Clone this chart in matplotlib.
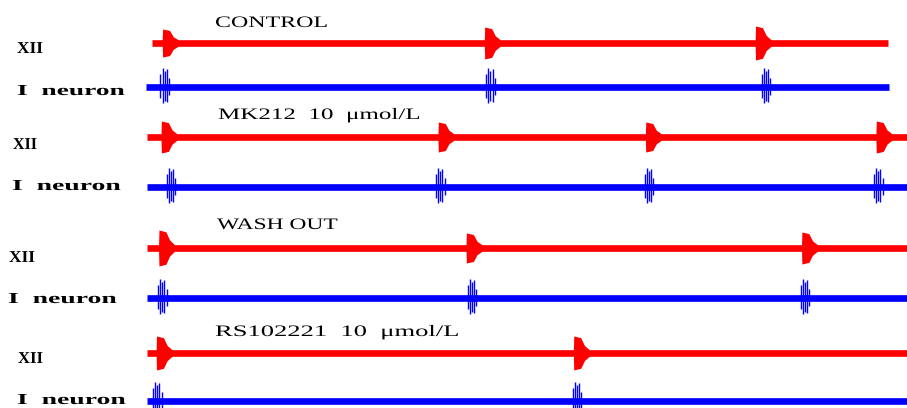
import matplotlib.pyplot as plt
from matplotlib import patheffects
from matplotlib.transforms import Affine2D

# burst onsets (s)
control_xii = [1.6, 28.0, 50.2]
control_neuron = [1.4, 28.1, 50.7]
mk212_xii = [1.5, 24.2, 41.2, 60.1]
mk212_neuron = [1.9, 24.0, 41.1, 59.9]
wash_xii = [1.3, 26.5, 54.0]
wash_neuron = [1.2, 26.6, 53.9]
rs_xii = [1.1, 35.3]
rs_neuron = [0.8, 35.2]

# burst amplitudes (arbitrary units)
control_xii_amp = [14, 16, 17]
mk212_xii_amp = [16, 15, 15, 16]
wash_xii_amp = [18, 15, 16]
rs_xii_amp = [17, 17]
neuron_amp = 19

# recording windows (s)
control_span = [(0.4, 60.7), (-0.1, 60.8)]
other_span = [(0.0, 62.3), (0.0, 62.3)]

titles = ['CONTROL', 'MK212  10  \u03bcmol/L', 'WASH OUT', 'RS102221  10  \u03bcmol/L']

blocks = [
    (control_xii, control_xii_amp, control_neuron, control_span),
    (mk212_xii, mk212_xii_amp, mk212_neuron, other_span),
    (wash_xii, wash_xii_amp, wash_neuron, other_span),
    (rs_xii, rs_xii_amp, rs_neuron, other_span),
]

# layout (pixels from top / left)
red_y = [43, 137, 248, 353]
blue_y = [87, 187, 298, 401]
title_pos = [(215, 27, 113), (218, 119, 203), (217, 229, 121), (215, 336, 245)]
xii_pos = [(17, 53, 26), (13, 149, 24), (9, 262, 26), (18, 363, 25)]
neu_pos = [(17, 95, 108), (12, 190, 109), (8, 303, 109), (17, 404, 109)]

RED = '#ff0000'
BLUE = '#0000ff'
W, H = 907, 408
px_per_s = 12.2
t0_px = 147


class StretchX(patheffects.AbstractPathEffect):
    """draw the text wider around its left edge"""
    def __init__(self, x0, sx):
        super().__init__()
        self.x0 = x0
        self.sx = sx

    def draw_path(self, renderer, gc, tpath, affine, rgbFace=None):
        st = Affine2D().translate(-self.x0, 0).scale(self.sx, 1).translate(self.x0, 0)
        renderer.draw_path(gc, tpath, affine + st, rgbFace)


fig = plt.figure(figsize=(W / 100, H / 100), dpi=100)
ax = fig.add_axes([0, 0, 1, 1])
ax.set_xlim(-t0_px / px_per_s, (W - t0_px) / px_per_s)
ax.set_ylim(H, 0)
ax.axis('off')

serif = ['Liberation Serif', 'DejaVu Serif']
labels = []

for i, (xii, xii_amp, neu, span) in enumerate(blocks):
    # XII trace
    y = red_y[i]
    ax.plot(span[0], [y, y], color=RED, lw=4.8, solid_capstyle='butt')
    for t, a in zip(xii, xii_amp):
        xs = [t - 0.35, t - 0.32, t + 0.25, t + 0.55, t + 0.95]
        half = [3.3, a, a * 0.9, a * 0.45, 3.3]
        ax.fill_between(xs, [y - h for h in half], [y + h for h in half],
                        color=RED, lw=0)
    # neuron trace
    y = blue_y[i]
    ax.plot(span[1], [y, y], color=BLUE, lw=4.8, solid_capstyle='butt')
    for t in neu:
        offs = [-0.3, -0.12, 0.05, 0.22, 0.4]
        sc = [0.7, 1.0, 0.85, 0.95, 0.5]
        for o, s in zip(offs, sc):
            ax.vlines(t + o, y - neuron_amp * s, y + neuron_amp * 0.85 * s,
                      color=BLUE, lw=1.0)

    x, yb, w = title_pos[i]
    labels.append((fig.text(x / W, 1 - yb / H, titles[i], family=serif,
                            fontsize=11.5, va='baseline', ha='left'), x, w))
    x, yb, w = xii_pos[i]
    labels.append((fig.text(x / W, 1 - yb / H, 'XII', family=serif,
                            fontsize=12, fontweight='bold', va='baseline', ha='left'), x, w))
    x, yb, w = neu_pos[i]
    labels.append((fig.text(x / W, 1 - yb / H, 'I  neuron', family=serif,
                            fontsize=11, fontweight='bold', va='baseline', ha='left'), x, w))

# widen the text to the lettering of the original
fig.canvas.draw()
r = fig.canvas.get_renderer()
for txt, x, w in labels:
    bb = txt.get_window_extent(r)
    txt.set_path_effects([StretchX(bb.x0, w / bb.width)])

fig.savefig('out.png', dpi=100)
